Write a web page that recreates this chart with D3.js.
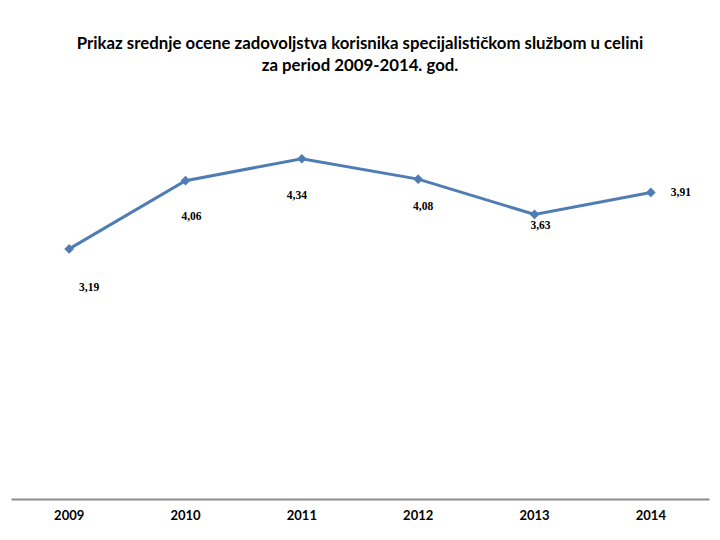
<!DOCTYPE html>
<html>
<head>
    <meta charset="utf-8">
    <style>
        body { margin: 0; background: #fff; }
        svg { display: block; }
        .title { font-family: Lato, 'Open Sans', sans-serif; font-size: 16.8px; font-weight: bold; fill: #000; }
        .x.axis .domain { stroke: #8c8c8c; stroke-width: 2px; }
        .x.axis .tick line { display: none; }
        .x.axis .tick text { font-family: Lato, 'Open Sans', sans-serif; font-size: 13px; font-weight: bold; fill: #000; }
        .value-label { font-family: 'Liberation Serif', serif; font-size: 11.5px; font-weight: bold; fill: #000; }
    </style>
</head>
<body>
    <svg width="720" height="540"></svg>
</body>
<script src="https://d3js.org/d3.v7.min.js"></script>
<script>
    let years = ["2009", "2010", "2011", "2012", "2013", "2014"]
    let scores = [3.19, 4.06, 4.34, 4.08, 3.63, 3.91]
    let titleLines = [
        "Prikaz srednje ocene zadovoljstva korisnika specijalističkom službom u celini",
        "za period 2009-2014. god."
    ]

    // where each value label sits relative to its point (Excel placed them by hand)
    let labelOffsets = [[20, 39], [6, 37], [-5, 38], [5, 28], [6, 12], [20, 1]]

    let width = 720
    let height = 540
    let margin = { top: 107, right: 11, bottom: 41, left: 11 }

    let svg = d3.select("svg")

    let data = years.map((y, i) => ({ year: y, value: scores[i] }))

    let x = d3.scaleBand()
        .domain(years)
        .range([margin.left, width - margin.right])

    let y = d3.scaleLinear()
        .domain([0, 5])
        .range([height - margin.bottom, margin.top])

    let cx = d => x(d.year) + x.bandwidth() / 2

    svg.selectAll(".title")
        .data(titleLines)
        .join("text")
        .attr("class", "title")
        .attr("x", width / 2)
        .attr("y", (d, i) => 49 + i * 22)
        .attr("text-anchor", "middle")
        .text(d => d)

    svg.append("g")
        .attr("class", "x axis")
        .attr("transform", `translate(0, ${height - margin.bottom})`)
        .call(d3.axisBottom(x).tickSize(0).tickPadding(12).tickSizeOuter(0))

    let line = d3.line()
        .x(cx)
        .y(d => y(d.value))

    svg.append("path")
        .datum(data)
        .attr("fill", "none")
        .attr("stroke", "#4f7db3")
        .attr("stroke-width", 3)
        .attr("d", line)

    svg.selectAll(".marker")
        .data(data)
        .join("path")
        .attr("class", "marker")
        .attr("d", d3.symbol().type(d3.symbolDiamond2).size(60))
        .attr("transform", d => `translate(${cx(d)}, ${y(d.value)})`)
        .attr("fill", "#4f7db3")

    svg.selectAll(".value-label")
        .data(data)
        .join("text")
        .attr("class", "value-label")
        .attr("x", (d, i) => cx(d) + labelOffsets[i][0])
        .attr("y", (d, i) => y(d.value) + labelOffsets[i][1])
        .attr("text-anchor", (d, i) => i == data.length - 1 ? "start" : "middle")
        .attr("dominant-baseline", "middle")
        .text(d => d3.format(".2f")(d.value).replace(".", ","))
</script>
</html>
